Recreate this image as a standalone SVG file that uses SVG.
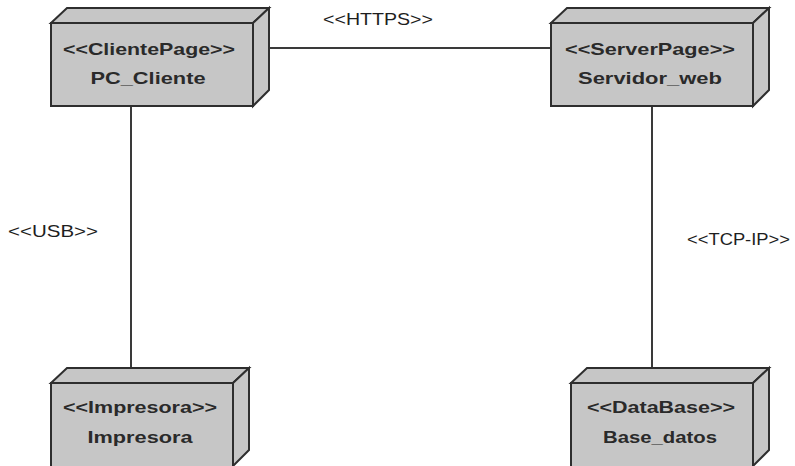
<svg xmlns="http://www.w3.org/2000/svg" width="795" height="466" viewBox="0 0 795 466">
  <style>
    .face { fill: #c6c6c6; stroke: #2e2e2e; stroke-width: 2; stroke-linejoin: miter; }
    .link { fill: none; stroke: #3a3a3a; stroke-width: 2; }
    .st { font-family: "Liberation Sans", Arial, sans-serif; font-weight: bold; font-size: 17px; fill: #2a2a2a; text-anchor: middle; }
    .lbl { font-family: "Liberation Sans", Arial, sans-serif; font-size: 17px; fill: #1e1e1e; }
  </style>
  <rect width="795" height="466" fill="#ffffff"/>

  <!-- connectors -->
  <g id="connectors">
    <line class="link" x1="269" y1="48" x2="551" y2="48"/>
    <line class="link" x1="131" y1="106" x2="131" y2="368"/>
    <line class="link" x1="652" y1="106" x2="652" y2="368"/>
    <text class="lbl" x="323" y="25" textLength="110" lengthAdjust="spacingAndGlyphs">&lt;&lt;HTTPS&gt;&gt;</text>
    <text class="lbl" x="8" y="237" textLength="90" lengthAdjust="spacingAndGlyphs">&lt;&lt;USB&gt;&gt;</text>
    <text class="lbl" x="687" y="245" textLength="103" lengthAdjust="spacingAndGlyphs">&lt;&lt;TCP-IP&gt;&gt;</text>
  </g>

  <!-- PC_Cliente -->
  <g id="pc_cliente">
    <polygon class="face" points="51,23 67,8 269,8 253,23"/>
    <polygon class="face" points="253,23 269,8 269,90 253,106"/>
    <rect class="face" x="51" y="23" width="202" height="83"/>
    <text class="st" x="149" y="55" textLength="172" lengthAdjust="spacingAndGlyphs">&lt;&lt;ClientePage&gt;&gt;</text>
    <text class="st" x="148" y="84" textLength="115" lengthAdjust="spacingAndGlyphs">PC_Cliente</text>
  </g>

  <!-- Servidor_web -->
  <g id="servidor_web">
    <polygon class="face" points="551,23 567,8 769,8 753,23"/>
    <polygon class="face" points="753,23 769,8 769,90 753,106"/>
    <rect class="face" x="551" y="23" width="202" height="83"/>
    <text class="st" x="650" y="55" textLength="170" lengthAdjust="spacingAndGlyphs">&lt;&lt;ServerPage&gt;&gt;</text>
    <text class="st" x="650" y="84" textLength="144" lengthAdjust="spacingAndGlyphs">Servidor_web</text>
  </g>

  <!-- Impresora -->
  <g id="impresora">
    <polygon class="face" points="51,383 67,368 249,368 233,383"/>
    <polygon class="face" points="233,383 249,368 249,450 233,466"/>
    <rect class="face" x="51" y="383" width="182" height="84"/>
    <text class="st" x="140" y="413" textLength="154" lengthAdjust="spacingAndGlyphs">&lt;&lt;Impresora&gt;&gt;</text>
    <text class="st" x="140" y="443" textLength="105" lengthAdjust="spacingAndGlyphs">Impresora</text>
  </g>

  <!-- Base_datos -->
  <g id="base_datos">
    <polygon class="face" points="571,383 587,368 769,368 753,383"/>
    <polygon class="face" points="753,383 769,368 769,450 753,466"/>
    <rect class="face" x="571" y="383" width="182" height="84"/>
    <text class="st" x="661" y="413" textLength="148" lengthAdjust="spacingAndGlyphs">&lt;&lt;DataBase&gt;&gt;</text>
    <text class="st" x="660" y="443" textLength="114" lengthAdjust="spacingAndGlyphs">Base_datos</text>
  </g>
</svg>
